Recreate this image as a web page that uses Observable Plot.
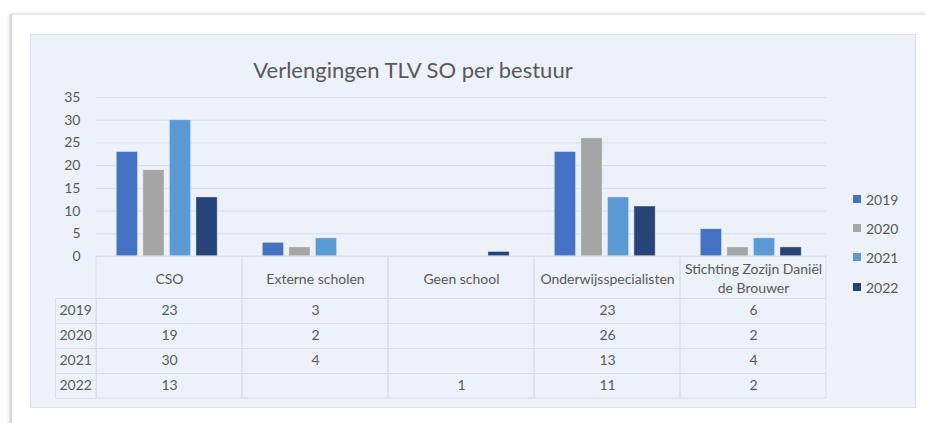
<!DOCTYPE html>
<html>
<head>
<meta charset="utf-8">
<script src="https://cdn.jsdelivr.net/npm/d3@7"></script>
<script src="https://cdn.jsdelivr.net/npm/@observablehq/plot@0.6"></script>
<style>
  html, body { margin: 0; padding: 0; background: #ffffff; }
  body { width: 926px; height: 423px; position: relative; overflow: hidden; font-family: "Lato", "Noto Sans", sans-serif; }
  #outer { position: absolute; left: 10px; top: 14px; width: 915px; height: 420px;
           border-left: 2px solid #d6d6d6; border-top: 1px solid #e9e9e9;
           box-shadow: -1px -1px 3px rgba(0,0,0,0.12); background: #fff; }
  #panel { position: absolute; left: 30px; top: 34px; width: 884px; height: 372px;
           background: #edf2fa; border: 1px solid #dfe3e9; }
  #title { position: absolute; left: 30px; top: 57px; width: 766px; text-align: center;
           font-size: 22px; line-height: 26px; color: #595959; white-space: nowrap; }
  #chart { position: absolute; left: 30px; top: 34px; }
  #legend { position: absolute; left: 853px; top: 0; }
  .item { position: absolute; left: 0; height: 16px; display: flex; align-items: center; white-space: nowrap;
          font-size: 14px; color: #595959; }
  .sw { width: 8px; height: 8px; margin-right: 5px; }
</style>
</head>
<body>
<div id="outer"></div>
<div id="panel"></div>
<div id="title">Verlengingen TLV SO per bestuur</div>
<div id="chart"></div>
<div id="legend"></div>
<script>
// ---- data ----
const categories = ["CSO", "Externe scholen", "Geen school", "Onderwijsspecialisten", "Stichting Zozijn Daniël de Brouwer"];
const headerLabels = ["CSO", "Externe scholen", "Geen school", "Onderwijsspecialisten", "Stichting Zozijn Daniël\nde Brouwer"];
const years = ["2019", "2020", "2021", "2022"];
const v2019 = [23, 3, null, 23, 6];
const v2020 = [19, 2, null, 26, 2];
const v2021 = [30, 4, null, 13, 4];
const v2022 = [13, null, 1, 11, 2];
const yTicks = [0, 5, 10, 15, 20, 25, 30, 35];
const colors = ["#4472c4", "#a5a5a5", "#5b9bd5", "#264478"];

const series = [v2019, v2020, v2021, v2022];
const rows = categories.map((c, j) => {
  const r = {category: c, label: headerLabels[j]};
  years.forEach((y, i) => { r[y] = series[i][j]; });
  return r;
});

// ---- layout ----
const W = 885, H = 373, mL = 66, mR = 89, mT = 63, mB = 151;
const frameW = W - mL - mR, frameH = H - mT - mB;
const step = frameW / categories.length;
const headerH = 42, rowH = 25, labelColW = 41;
const tableH = headerH + years.length * rowH;
const lineColor = "#d9dde4";
const textColor = "#595959";
const inner = d3.scaleBand().domain(years).range([0, step]).paddingInner(0.2).paddingOuter(0.85).align(0.45);

const marks = [];
// gridlines
marks.push(Plot.ruleY(yTicks, {stroke: lineColor, strokeWidth: 1}));
// bars
years.forEach((yr, i) => {
  marks.push(Plot.barY(rows, {
    filter: d => d[yr] != null,
    x: "category", y1: 0, y2: yr, fill: colors[i],
    stroke: "#ffffff", strokeOpacity: 0.45, strokeWidth: 0.8,
    insetLeft: inner(yr), insetRight: step - inner(yr) - inner.bandwidth()
  }));
});
// table: category columns
marks.push(Plot.cell(categories, {x: d => d, fill: "none", stroke: lineColor,
  insetTop: frameH, insetBottom: -tableH}));
// table: row label column
marks.push(Plot.frame({stroke: lineColor, insetLeft: -labelColW, insetRight: frameW,
  insetTop: frameH + headerH, insetBottom: -tableH}));
// table: horizontal row lines
d3.range(years.length).forEach(i => {
  marks.push(Plot.ruleY([0], {dy: headerH + rowH * i, insetLeft: -labelColW, stroke: lineColor}));
});
// header labels
marks.push(Plot.text(rows, {x: "category", text: "label", frameAnchor: "bottom", lineAnchor: "middle",
  dy: headerH / 2, lineHeight: 1.36, fill: textColor, fontSize: 14}));
// values and row labels
years.forEach((yr, i) => {
  marks.push(Plot.text(rows, {x: "category", text: d => d[yr] == null ? "" : String(d[yr]),
    frameAnchor: "bottom", lineAnchor: "middle", dy: headerH + rowH * i + rowH / 2, fill: textColor, fontSize: 14}));
  marks.push(Plot.text([yr], {text: d => d, frameAnchor: "bottom-left", lineAnchor: "middle", textAnchor: "start",
    dx: -labelColW + 4, dy: headerH + rowH * i + rowH / 2, fill: textColor, fontSize: 14}));
});

const chart = Plot.plot({
  width: W, height: H,
  marginLeft: mL, marginRight: mR, marginTop: mT, marginBottom: mB,
  style: {background: "transparent", fontFamily: "Lato, 'Noto Sans', sans-serif", fontSize: "14px", color: textColor, overflow: "visible"},
  x: {domain: categories, padding: 0, axis: null},
  y: {domain: [0, 35], ticks: yTicks, tickSize: 0, tickPadding: 16, label: null},
  marks
});
document.getElementById("chart").appendChild(chart);

// legend
const legend = document.getElementById("legend");
const legendY = [199, 228, 257, 287];
years.forEach((yr, i) => {
  const it = document.createElement("div");
  it.className = "item";
  it.style.top = (legendY[i] - 8) + "px";
  it.innerHTML = `<span class="sw" style="background:${colors[i]}"></span><span>${yr}</span>`;
  legend.appendChild(it);
});
</script>
</body>
</html>
